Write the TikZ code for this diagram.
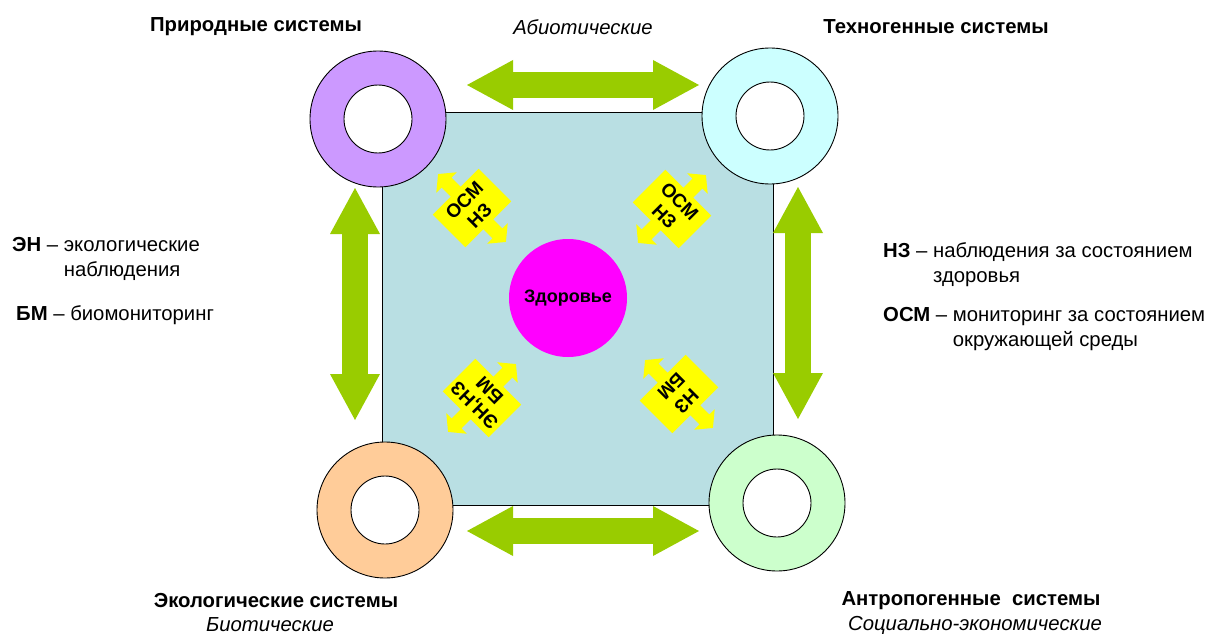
\documentclass[tikz,border=0pt]{standalone}
\usepackage{fontspec}
\setmainfont{Liberation Sans}
\usetikzlibrary{arrows.meta}
\definecolor{sqcol}{RGB}{185,223,227}
\definecolor{ringA}{RGB}{204,153,255}
\definecolor{ringB}{RGB}{204,255,255}
\definecolor{ringC}{RGB}{255,204,153}
\definecolor{ringD}{RGB}{204,255,204}
\definecolor{garrow}{RGB}{153,204,0}
\definecolor{ycol}{RGB}{255,255,0}
\definecolor{pinkc}{RGB}{255,0,255}
\tikzset{
  lbl/.style={inner sep=0pt, font=\fontsize{20.3}{25}\selectfont},
  ringout/.style={circle, draw=black, line width=0.9pt, minimum size=136pt, inner sep=0pt},
  ringin/.style={circle, draw=black, fill=white, line width=0.9pt, minimum size=68pt, inner sep=0pt},
  bigarrow/.style={draw=garrow, line width=26pt,
    {Triangle[length=46pt 0 0, width=50pt 0 0, line width=0pt 0 0]}-{Triangle[length=46pt 0 0, width=50pt 0 0, line width=0pt 0 0]}},
  ytext/.style={inner sep=0pt, align=center, font=\fontsize{19}{21.5}\selectfont\bfseries}
}
\newcommand\ycallout[5]{%
  \begin{scope}[shift={(#1,#2)}, rotate=#3]
    \fill[ycol] (-32.5pt,-23pt) -- (-32.5pt,23pt) -- (-7pt,23pt) -- (-7pt,36pt) -- (-14.5pt,36pt) -- (0pt,48pt) -- (14.5pt,36pt) -- (7pt,36pt) -- (7pt,23pt) -- (32.5pt,23pt) -- (32.5pt,-23pt) -- (7pt,-23pt) -- (7pt,-36pt) -- (14.5pt,-36pt) -- (0pt,-48pt) -- (-14.5pt,-36pt) -- (-7pt,-36pt) -- (-7pt,-23pt) -- cycle;
    \node[ytext, rotate=#3] (#5) at (0pt,0pt) {#4};
  \end{scope}}
\begin{document}
\begin{tikzpicture}[x=1pt,y=-1pt]
\useasboundingbox (0,0) rectangle (1211,634);
% central square
\node[draw=black, line width=0.9pt, fill=sqcol, minimum width=391pt, minimum height=393pt, inner sep=0pt] (sq) at (577.5,308.5) {};
% rings
\node[ringout, fill=ringA] (rA) at (378,119) {};
\node[ringin] (rAi) at (378,119) {};
\node[ringout, fill=ringB] (rB) at (770,116) {};
\node[ringin] (rBi) at (770,116) {};
\node[ringout, fill=ringC] (rC) at (385,510) {};
\node[ringin] (rCi) at (385,510) {};
\node[ringout, fill=ringD] (rD) at (777,503) {};
\node[ringin] (rDi) at (777,503) {};
% green arrows
\coordinate (tl) at (467,85); \coordinate (tr) at (699,85);
\coordinate (bl) at (467,531); \coordinate (br) at (699,531);
\coordinate (lt) at (355,188); \coordinate (lb) at (355,420);
\coordinate (rt) at (798,187); \coordinate (rb) at (798,419);
\draw[bigarrow] (tl) -- (tr);
\draw[bigarrow] (bl) -- (br);
\draw[bigarrow] (lt) -- (lb);
\draw[bigarrow] (rt) -- (rb);
% health
\node[circle, fill=pinkc, minimum size=118pt, inner sep=0pt, font=\fontsize{18}{21}\selectfont\bfseries] (zd) at (568,298) {Здоровье};
% yellow callouts
\ycallout{472}{208}{45}{ОСМ\\НЗ}{y1}
\ycallout{672}{209}{-45}{ОСМ\\НЗ}{y2}
\ycallout{482}{398}{135}{ЭН,НЗ\\БМ}{y3}
\ycallout{679}{394}{225}{НЗ\\БМ}{y4}
% titles
\node[lbl, font=\fontsize{20.3}{25}\selectfont\bfseries] (t1) at (256,27) {Природные системы};
\node[lbl, font=\fontsize{20.3}{25}\selectfont\itshape] (t2) at (583,27) {Абиотические};
\node[lbl, font=\fontsize{20.3}{25}\selectfont\bfseries] (t3) at (936,27) {Техногенные системы};
\node[lbl, font=\fontsize{20.3}{25}\selectfont\bfseries] (t4) at (276,601) {Экологические системы};
\node[lbl, font=\fontsize{20.3}{25}\selectfont\itshape] (t5) at (270,625) {Биотические};
\node[lbl, font=\fontsize{20.3}{25}\selectfont\bfseries] (t6) at (971,601) {Антропогенные\ \ системы};
\node[lbl, font=\fontsize{20.3}{25}\selectfont\itshape] (t7) at (975,625) {Социально-экономические};
% legends
\node[lbl, anchor=west] (L1) at (12,259) {\begin{tabular}{@{}l@{\ }l@{}}\textbf{ЭН} – & экологические\\ & наблюдения\end{tabular}};
\node[lbl, anchor=west] (L2) at (16,315) {\textbf{БМ} – биомониторинг};
\node[lbl, anchor=west] (R1) at (883,265) {\begin{tabular}{@{}l@{\ }l@{}}\textbf{НЗ} – & наблюдения за состоянием\\ & здоровья\end{tabular}};
\node[lbl, anchor=west] (R2) at (883,329) {\begin{tabular}{@{}l@{\ }l@{}}\textbf{ОСМ} – & мониторинг за состоянием\\ & окружающей среды\end{tabular}};
\end{tikzpicture}
\end{document}
